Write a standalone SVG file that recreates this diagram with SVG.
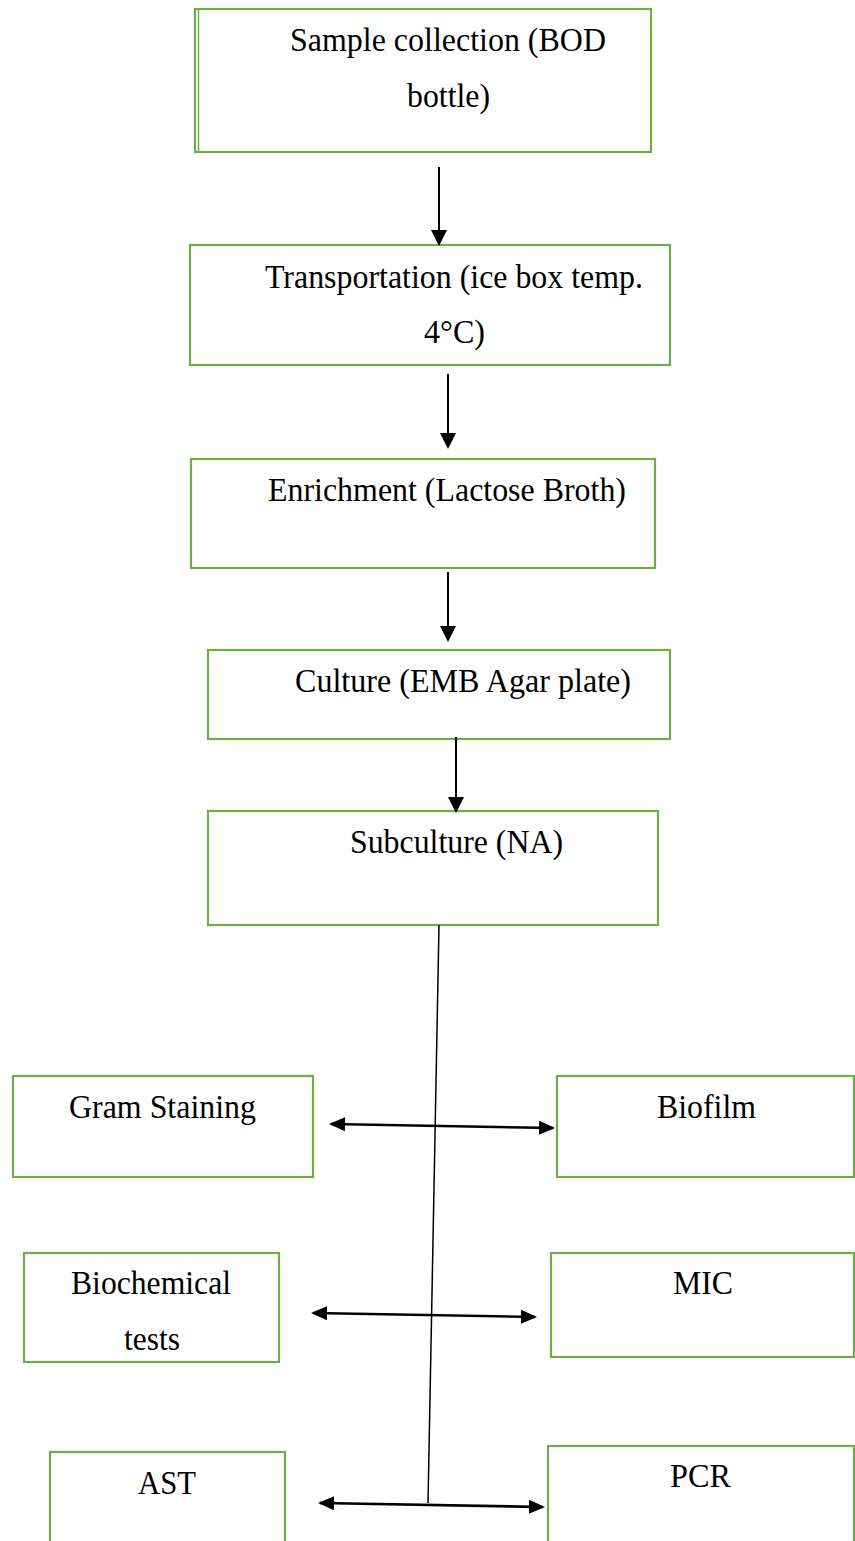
<svg xmlns="http://www.w3.org/2000/svg" width="855" height="1541" viewBox="0 0 855 1541">
<style>
.box{fill:#fff;stroke:#70AD47;stroke-width:2.2}
.t{font-family:"Liberation Serif","Times New Roman",serif;font-size:32px;fill:#000}
.c{stroke:#000;stroke-width:2;fill:none}
.c2{stroke:#000;stroke-width:2.6;fill:none}
</style>
<defs>
<marker id="ah2" markerWidth="16" markerHeight="16" refX="14" refY="8" orient="auto-start-reverse" markerUnits="userSpaceOnUse" viewBox="0 0 16 16">
<path d="M0,1 L16,8 L0,15 z" fill="#000"/>
</marker>
<marker id="ah1" markerWidth="16" markerHeight="18" refX="14" refY="9" orient="auto" markerUnits="userSpaceOnUse" viewBox="0 0 16 18">
<path d="M0,1 L16,9 L0,17 z" fill="#000"/>
</marker>
</defs>
<rect width="855" height="1541" fill="#fff"/>
<g id="n1">
<rect class="box" x="195" y="9" width="456" height="143"/>
<line x1="198.5" y1="9" x2="198.5" y2="152" stroke="#70AD47" stroke-width="1.5"/>
<text class="t" transform="translate(290,51) scale(1,1.08)" textLength="316" lengthAdjust="spacingAndGlyphs">Sample collection (BOD</text>
<text class="t" transform="translate(407,107) scale(1,1.08)" textLength="83" lengthAdjust="spacingAndGlyphs">bottle)</text>
</g>
<g id="n2">
<rect class="box" x="190" y="245" width="480" height="120"/>
<text class="t" transform="translate(265,288) scale(1,1.08)" textLength="378" lengthAdjust="spacingAndGlyphs">Transportation (ice box temp.</text>
<text class="t" transform="translate(424,343) scale(1,1.08)" textLength="61" lengthAdjust="spacingAndGlyphs">4°C)</text>
</g>
<g id="n3">
<rect class="box" x="191" y="459" width="464" height="109"/>
<text class="t" transform="translate(268,501) scale(1,1.08)" textLength="358" lengthAdjust="spacingAndGlyphs">Enrichment (Lactose Broth)</text>
</g>
<g id="n4">
<rect class="box" x="208" y="650" width="462" height="89"/>
<text class="t" transform="translate(295,692) scale(1,1.08)" textLength="336" lengthAdjust="spacingAndGlyphs">Culture (EMB Agar plate)</text>
</g>
<g id="n5">
<rect class="box" x="208" y="811" width="450" height="114"/>
<text class="t" transform="translate(350,853) scale(1,1.08)" textLength="213" lengthAdjust="spacingAndGlyphs">Subculture (NA)</text>
</g>
<g id="n6">
<rect class="box" x="13" y="1076" width="300" height="101"/>
<text class="t" transform="translate(69,1118) scale(1,1.08)" textLength="187" lengthAdjust="spacingAndGlyphs">Gram Staining</text>
</g>
<g id="n7">
<rect class="box" x="557" y="1076" width="297" height="101"/>
<text class="t" transform="translate(657,1118) scale(1,1.08)" textLength="99" lengthAdjust="spacingAndGlyphs">Biofilm</text>
</g>
<g id="n8">
<rect class="box" x="24" y="1253" width="255" height="109"/>
<text class="t" transform="translate(71,1294) scale(1,1.08)" textLength="160" lengthAdjust="spacingAndGlyphs">Biochemical</text>
<text class="t" transform="translate(124,1350) scale(1,1.08)" textLength="56" lengthAdjust="spacingAndGlyphs">tests</text>
</g>
<g id="n9">
<rect class="box" x="551" y="1253" width="303" height="104"/>
<text class="t" transform="translate(673,1294) scale(1,1.08)" textLength="60" lengthAdjust="spacingAndGlyphs">MIC</text>
</g>
<g id="n10">
<rect class="box" x="50" y="1452" width="235" height="100"/>
<text class="t" transform="translate(138,1494) scale(1,1.08)" textLength="58" lengthAdjust="spacingAndGlyphs">AST</text>
</g>
<g id="n11">
<rect class="box" x="548" y="1446" width="306" height="106"/>
<text class="t" transform="translate(670,1487) scale(1,1.08)" textLength="61" lengthAdjust="spacingAndGlyphs">PCR</text>
</g>
<g id="connectors">
<line class="c" x1="439" y1="167" x2="439" y2="244" marker-end="url(#ah1)"/>
<line class="c" x1="448" y1="374" x2="448" y2="447" marker-end="url(#ah1)"/>
<line class="c" x1="448" y1="572" x2="448" y2="640" marker-end="url(#ah1)"/>
<line class="c" x1="456" y1="737" x2="456" y2="811" marker-end="url(#ah1)"/>
<line x1="439" y1="925" x2="428" y2="1503" stroke="#000" stroke-width="1.5"/>
<line class="c2" x1="331" y1="1124" x2="553" y2="1128" marker-start="url(#ah2)" marker-end="url(#ah2)"/>
<line class="c2" x1="313" y1="1313" x2="535" y2="1317" marker-start="url(#ah2)" marker-end="url(#ah2)"/>
<line class="c2" x1="320" y1="1503" x2="543" y2="1507" marker-start="url(#ah2)" marker-end="url(#ah2)"/>
</g>
</svg>
